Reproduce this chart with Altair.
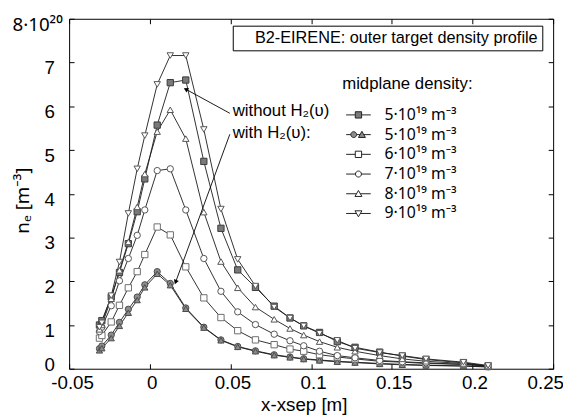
import math
import altair as alt
import pandas as pd

FONT = "Liberation Sans"
SUPFONT = "Noto Sans"

# ---------------- data ----------------
X = [-0.0312, -0.0297, -0.0239, -0.0188, -0.0133, -0.0078, -0.0031, 0.0046, 0.0127,
     0.0223, 0.0335, 0.0441, 0.0545, 0.0655, 0.0771, 0.0869, 0.0954, 0.1052, 0.1162,
     0.1272, 0.1425, 0.1565, 0.1712, 0.1944, 0.2097]

# 5e19, with H2(v) - filled circles
n5_with_a = [0.46, 0.52, 0.77, 1.06, 1.36, 1.64, 1.92, 2.22, 1.95, 1.39, 0.95, 0.66, 0.51,
             0.41, 0.32, 0.27, 0.23, 0.20, 0.17, 0.15, 0.12, 0.10, 0.08, 0.065, 0.045]
# 5e19, with H2(v) - filled triangles
n5_with_b = [0.42, 0.47, 0.70, 0.98, 1.28, 1.57, 1.86, 2.17, 1.91, 1.37, 0.94, 0.65, 0.50,
             0.40, 0.31, 0.26, 0.22, 0.19, 0.16, 0.14, 0.11, 0.09, 0.075, 0.06, 0.04]
# 5e19, without H2(v) - filled squares
n5_without = [1.00, 1.10, 1.64, 2.20, 2.86, 3.59, 4.34, 5.57, 6.54, 6.60, 4.74, 3.21, 2.26,
              1.86, 1.43, 1.16, 0.98, 0.83, 0.62, 0.49, 0.38, 0.29, 0.21, 0.135, 0.06]
n6 = [0.70, 0.76, 1.07, 1.45, 1.85, 2.22, 2.61, 3.24, 3.06, 2.33, 1.62, 1.17, 0.87,
      0.66, 0.55, 0.45, 0.40, 0.32, 0.27, 0.225, 0.17, 0.15, 0.12, 0.10, 0.06]
n7 = [0.85, 0.95, 1.44, 2.01, 2.52, 3.05, 3.63, 4.53, 4.57, 3.63, 2.52, 1.77, 1.30,
      1.01, 0.79, 0.64, 0.525, 0.40, 0.30, 0.25, 0.19, 0.16, 0.135, 0.10, 0.06]
n8 = [0.90, 1.00, 1.60, 2.25, 2.90, 3.70, 4.45, 5.42, 5.92, 5.26, 3.58, 2.45, 1.85,
      1.41, 1.13, 0.92, 0.77, 0.62, 0.49, 0.40, 0.30, 0.225, 0.17, 0.12, 0.06]
n9 = [0.95, 1.05, 1.67, 2.44, 3.55, 4.57, 5.33, 6.50, 7.16, 7.16, 5.47, 3.65, 2.50,
      1.89, 1.41, 1.16, 0.98, 0.81, 0.65, 0.47, 0.37, 0.30, 0.225, 0.15, 0.075]

SERIES = ["w5a", "w5b", "wo5", "d6", "d7", "d8", "d9"]
SERIES_VALUES = [n5_with_a, n5_with_b, n5_without, n6, n7, n8, n9]
SERIES_SHAPES = ["circle", "triangle-up", "square", "square", "circle", "triangle-up", "triangle-down"]
SERIES_FILLS = ["#8c8c8c", "#8c8c8c", "#7a7a7a", "white", "white", "white", "white"]
SERIES_STROKES = ["#4a4a4a", "#4a4a4a", "#3a3a3a", "#6e6e6e", "#555555", "#555555", "#555555"]
SERIES_SIZES = [40, 42, 38, 38, 40, 42, 42]

X_TICKS = [-0.05, 0, 0.05, 0.1, 0.15, 0.2, 0.25]
Y_TICKS = [0, 1, 2, 3, 4, 5, 6, 7, 8]

LEG_KEYS = ["5a", "5b", "6", "7", "8", "9"]
LEG_FILLS = ["#7a7a7a", "#8c8c8c", "white", "white", "white", "white"]
# symbol box is 16 px wide (8 px per unit); the line reaches +-12.5 px
LEG_PATHS = [
    "M-1.56,0H-0.4M0.4,0H1.56M-0.4,-0.4H0.4V0.4H-0.4Z",
    "M-1.56,0H-0.97M-0.23,0H0.22M0.66,0H1.56M-0.97,0A0.37,0.37 0 1,0 -0.23,0A0.37,0.37 0 1,0 -0.97,0ZM0.0,0.36L0.44,-0.42L0.88,0.36Z",
    "M-1.56,0H-0.4M0.4,0H1.56M-0.4,-0.4H0.4V0.4H-0.4Z",
    "M-1.56,0H-0.38M0.38,0H1.56M-0.38,0A0.38,0.38 0 1,0 0.38,0A0.38,0.38 0 1,0 -0.38,0Z",
    "M-1.56,0H-0.25M0.25,0H1.56M-0.44,0.34L0,-0.42L0.44,0.34Z",
    "M-1.56,0H-0.25M0.25,0H1.56M-0.44,-0.34L0,0.42L0.44,-0.34Z",
]

BOX_TEXT = "B2-EIRENE: outer target density profile"

ANN_TEXT = ["without H₂(υ)", "with H₂(υ):"]
ANN_X = [0.0514, 0.0514]
ANN_Y = [5.88, 5.38]
ARROW_X = [0.0496, 0.0496]
ARROW_Y = [5.84, 5.36]
ARROW_X2 = [0.0223, 0.0160]
ARROW_Y2 = [6.39, 1.98]

# ---------------- tables ----------------
rows = []
for s, vals in zip(SERIES, SERIES_VALUES):
    for x, y in zip(X, vals):
        rows.append({"series": s, "x": x, "y": y})
df = pd.DataFrame(rows)

PLOT_W, PLOT_H = 491, 355
px_x = PLOT_W / 0.3
px_y = PLOT_H / 8.0
angles = []
for x1, y1, x2, y2 in zip(ARROW_X, ARROW_Y, ARROW_X2, ARROW_Y2):
    dx = (x2 - x1) * px_x
    dy = -(y2 - y1) * px_y
    angles.append(math.degrees(math.atan2(dx, -dy)) % 360)

arrows = pd.DataFrame({"x": ARROW_X, "y": ARROW_Y, "x2": ARROW_X2, "y2": ARROW_Y2, "angle": angles})
ann = pd.DataFrame({"x": ANN_X, "y": ANN_Y, "text": ANN_TEXT})
leg_df = pd.DataFrame({"entry": LEG_KEYS})
box_df = pd.DataFrame({"box": [BOX_TEXT]})

xs = alt.Scale(domain=[-0.05, 0.25], nice=False, zero=False)
ys = alt.Scale(domain=[0, 8], nice=False, zero=False)

x_label_expr = "datum.value < 0 ? '-' + format(-datum.value, '.2~f') : format(datum.value, '.2~f')"
y_label_expr = "datum.value == 8 ? '8·10²⁰' : datum.label"

x_axis = alt.Axis(
    values=X_TICKS, title="x-xsep [m]", labelExpr=x_label_expr,
    labelFont=FONT, labelFontSize=19, labelColor="black",
    titleFont=FONT, titleFontSize=19, titleFontWeight="normal", titleColor="black",
    domain=False, tickSize=5, tickColor="black", tickWidth=1, offset=-5,
    labelPadding=5, grid=False, labelFlush=False, labelOverlap=False,
    titlePadding=3, titleX=238,
    labelOffset={"condition": [{"test": "datum.value > 0.24", "value": -8},
                               {"test": "datum.value < -0.04", "value": 3}], "value": 2},
)
y_axis = alt.Axis(
    values=Y_TICKS, title="nₑ [m⁻³]", labelExpr=y_label_expr,
    labelFont={"condition": {"test": "datum.value == 8", "value": SUPFONT}, "value": FONT},
    labelFontSize=19, labelColor="black",
    titleFont=SUPFONT, titleFontSize=19, titleFontWeight="normal", titleColor="black",
    domain=False, tickSize=5, tickColor="black", tickWidth=1, offset=-5,
    labelPadding={"condition": {"test": "datum.value == 8", "value": 7}, "value": 15},
    grid=False, labelFlush=False, labelOverlap=False,
    labelOffset={"condition": {"test": "datum.value == 0", "value": -4}, "value": 5.5},
    titleX=-42, titleY=184, titleAngle=270,
)
x_top = alt.Axis(orient="top", values=X_TICKS, labels=False, title=None, domain=False,
                 tickSize=5, tickColor="black", offset=-5, grid=False)
y_right = alt.Axis(orient="right", values=Y_TICKS, labels=False, title=None, domain=False,
                   tickSize=5, tickColor="black", offset=-5, grid=False)

lines = alt.Chart(df).mark_line(color="#1a1a1a", strokeWidth=0.9).encode(
    x=alt.X("x:Q", scale=xs, axis=x_axis),
    y=alt.Y("y:Q", scale=ys, axis=y_axis),
    detail="series:N",
    order="x:Q",
)

points = alt.Chart(df).mark_point(strokeWidth=1, opacity=1).encode(
    x=alt.X("x:Q", scale=xs, axis=x_top),
    y=alt.Y("y:Q", scale=ys, axis=y_right),
    shape=alt.Shape("series:N", scale=alt.Scale(domain=SERIES, range=SERIES_SHAPES), legend=None),
    fill=alt.Fill("series:N", scale=alt.Scale(domain=SERIES, range=SERIES_FILLS), legend=None),
    stroke=alt.Stroke("series:N", scale=alt.Scale(domain=SERIES, range=SERIES_STROKES), legend=None),
    size=alt.Size("series:N", scale=alt.Scale(domain=SERIES, range=SERIES_SIZES), legend=None),
)

leg_label_expr = "(datum.value == '5a' || datum.value == '5b' ? '5' : datum.value) + '·10¹⁹ m⁻³'"
legend_props = dict(
    orient="none", legendX=277, legendY=58, title="midplane density:",
    titleFont=FONT, titleFontSize=17, titleFontWeight="normal", titleColor="black",
    titlePadding=14, labelFont=SUPFONT, labelFontSize=16, labelColor="black",
    labelExpr=leg_label_expr, symbolSize=256, symbolStrokeWidth=1, symbolOffset=8,
    labelOffset=18, rowPadding=3, padding=0, labelLimit=0,
)
legend_layer = alt.Chart(leg_df).transform_filter("false").mark_point(opacity=1).encode(
    shape=alt.Shape("entry:N", scale=alt.Scale(domain=LEG_KEYS, range=LEG_PATHS),
                    legend=alt.Legend(**legend_props)),
    fill=alt.Fill("entry:N", scale=alt.Scale(domain=LEG_KEYS, range=LEG_FILLS),
                  legend=alt.Legend(**legend_props)),
    stroke=alt.Stroke("entry:N", scale=alt.Scale(domain=LEG_KEYS, range=["#222222"] * 6),
                      legend=alt.Legend(**legend_props)),
)

box_layer = alt.Chart(box_df).transform_filter("false").mark_point().encode(
    strokeDash=alt.StrokeDash("box:N", scale=alt.Scale(domain=[BOX_TEXT], range=[[1, 0]]),
                              legend=alt.Legend(orient="none", legendX=166, legendY=7, title=None,
                                                labelFont=FONT, labelFontSize=16.5, labelColor="black",
                                                strokeColor="black", fillColor="white", padding=4,
                                                symbolSize=0, symbolOpacity=0, symbolStrokeWidth=0,
                                                labelOffset=2, cornerRadius=0, labelLimit=0)),
)

ann_layer = alt.Chart(ann).mark_text(align="left", baseline="middle", font=FONT, fontSize=17,
                                     color="black").encode(
    x=alt.X("x:Q", scale=xs, axis=None),
    y=alt.Y("y:Q", scale=ys, axis=None),
    text="text:N",
)
arrow_lines = alt.Chart(arrows).mark_rule(color="black", strokeWidth=0.9).encode(
    x=alt.X("x:Q", scale=xs, axis=None),
    y=alt.Y("y:Q", scale=ys, axis=None),
    x2="x2:Q", y2="y2:Q",
)
arrow_heads = alt.Chart(arrows).mark_point(shape="triangle-up", filled=True, color="black",
                                           size=28, opacity=1).encode(
    x=alt.X("x2:Q", scale=xs, axis=None),
    y=alt.Y("y2:Q", scale=ys, axis=None),
    angle=alt.Angle("angle:Q", scale=None),
)

chart = alt.layer(lines, points, arrow_lines, arrow_heads, ann_layer, legend_layer, box_layer).resolve_scale(
    shape="independent", fill="independent", stroke="independent", strokeDash="independent",
    size="independent",
).resolve_axis(x="independent", y="independent").properties(
    width=PLOT_W, height=PLOT_H,
    padding={"left": 62, "top": 8, "right": 10, "bottom": 45},
    autosize=alt.AutoSizeParams(type="none"),
    background="white",
).configure_view(stroke="black", strokeWidth=1)

chart.save("out.html", embed_options={"renderer": "svg", "actions": False})
